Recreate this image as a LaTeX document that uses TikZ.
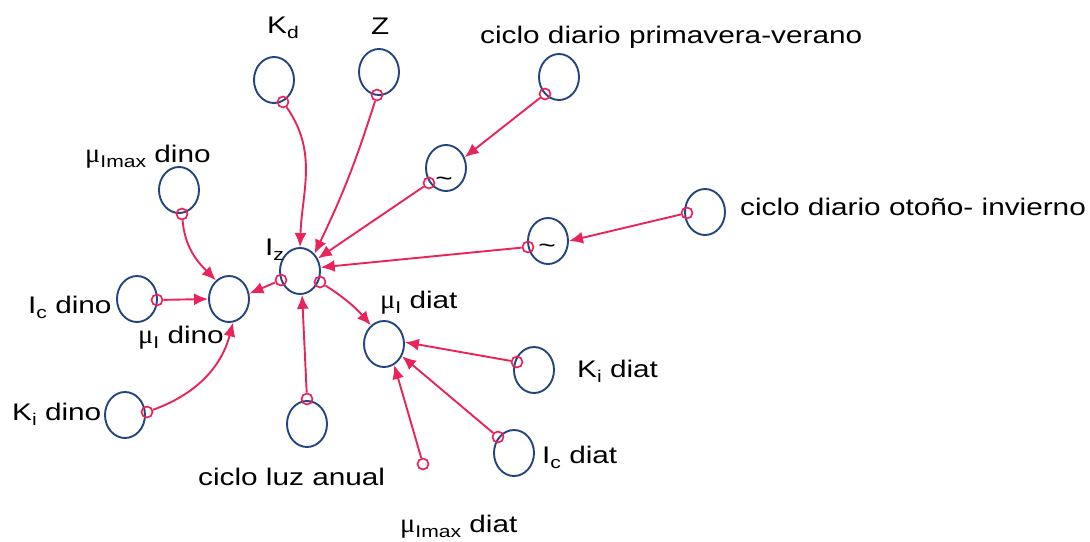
\documentclass[tikz,border=0pt]{standalone}
\usepackage{fontspec}
\setmainfont{Liberation Sans}[FakeStretch=1.24]
\newfontfamily\mufont{Liberation Serif}[FakeStretch=1.05]
\usetikzlibrary{shapes.geometric,arrows.meta}
\definecolor{nodeblue}{RGB}{36,68,128}
\definecolor{linkpink}{RGB}{232,36,90}
\newcommand\sbx[1]{\raisebox{-5.5pt}{\fontsize{17}{17}\selectfont #1}}
\newcommand\mux{{\mufont\fontsize{27}{27}\selectfont μ}}
\begin{document}
\begin{tikzpicture}[x=1pt,y=1pt,
  var/.style={ellipse, draw=nodeblue, line width=1.9pt, minimum width=40pt, minimum height=46pt, inner sep=0pt},
  port/.style={circle, draw=linkpink, line width=1.7pt, minimum size=11pt, inner sep=0pt},
  link/.style={draw=linkpink, line width=1.9pt, -{Latex[length=14pt,width=12pt]}},
  lbl/.style={anchor=base west, inner sep=0pt, font=\fontsize{24}{24}\selectfont},
  tld/.style={anchor=base, inner sep=0pt, font=\fontsize{24}{24}\selectfont}]
\useasboundingbox (0,0) rectangle (1090,-541);
% variables
\node[var] (kd)  at (274,-80) {};
\node[var] (z)   at (379,-72) {};
\node[var] (pv)  at (559,-77) {};
\node[var] (mmd) at (179,-190) {};
\node[var] (t1)  at (446,-168) {};
\node[var] (t2)  at (548,-241) {};
\node[var] (oi)  at (705,-212) {};
\node[var] (iz)  at (300,-271) {};
\node[var] (mud) at (229,-299) {};
\node[var] (icd) at (137,-299) {};
\node[var] (kid) at (125,-415) {};
\node[var] (cl)  at (307,-424) {};
\node[var] (mua) at (384,-344) {};
\node[var] (kia) at (534,-370) {};
\node[var] (ica) at (514,-453) {};
% tildes
\node[tld] (tt1) at (444,-186) {\textasciitilde};
\node[tld] (tt2) at (547,-253) {\textasciitilde};
% ports
\node[port] (kdp)  at (283,-102) {};
\node[port] (zp)   at (377,-95) {};
\node[port] (pvp)  at (545,-94) {};
\node[port] (mmdp) at (182,-214) {};
\node[port] (t1p)  at (429,-183) {};
\node[port] (t2p)  at (528,-247) {};
\node[port] (oip)  at (687,-213) {};
\node[port] (izl)  at (281,-280) {};
\node[port] (izr)  at (320,-282) {};
\node[port] (icdp) at (157,-300) {};
\node[port] (kidp) at (147,-412) {};
\node[port] (clp)  at (307,-399) {};
\node[port] (kiap) at (517,-362) {};
\node[port] (icap) at (498,-437) {};
\node[port] (mmap) at (423,-464) {};
% links
\draw[link] (kdp) to[out=-55,in=88] (iz.north);
\draw[link] (zp) to[bend left=4] (iz.50);
\draw[link] (pvp) -- (t1.30);
\draw[link] (t1p) -- (iz.35);
\draw[link] (oip) -- (t2.east);
\draw[link] (t2p) -- (iz.10);
\draw[link] (izl) -- (mud.15);
\draw[link] (izr) to[bend left=8] (mua.125);
\draw[link] (mmdp) to[out=-85,in=135] (mud.125);
\draw[link] (icdp) -- (mud.west);
\draw[link] (kidp) to[out=20,in=-105] (mud.-80);
\draw[link] (clp) -- (iz.-85);
\draw[link] (kiap) -- (mua.5);
\draw[link] (icap) -- (mua.-34);
\draw[link] (mmap) -- (mua.-64);
% labels
\node[lbl] (lkd)  at (267,-33) {K\sbx{d}};
\node[lbl] (lz)   at (371,-34) {Z};
\node[lbl] (lpv)  at (480,-43) {ciclo diario primavera-verano};
\node[lbl] (lmmd) at (85,-162) {\mux\sbx{Imax} dino};
\node[lbl] (licd) at (28,-313) {I\sbx{c} dino};
\node[lbl] (lmud) at (138,-343) {\mux\sbx{I} dino};
\node[lbl] (lkid) at (12,-420) {K\sbx{i} dino};
\node[lbl] (liz)  at (265,-255) {I\sbx{z}};
\node[lbl] (lmua) at (380,-308) {\mux\sbx{I} diat};
\node[lbl] (lkia) at (577,-377) {K\sbx{i} diat};
\node[lbl] (lica) at (542,-463) {I\sbx{c} diat};
\node[lbl] (lmma) at (400,-532) {\mux\sbx{Imax} diat};
\node[lbl] (lcl)  at (198,-485) {ciclo luz anual};
\node[lbl] (loi)  at (740,-215) {ciclo diario otoño- invierno};
\end{tikzpicture}
\end{document}
